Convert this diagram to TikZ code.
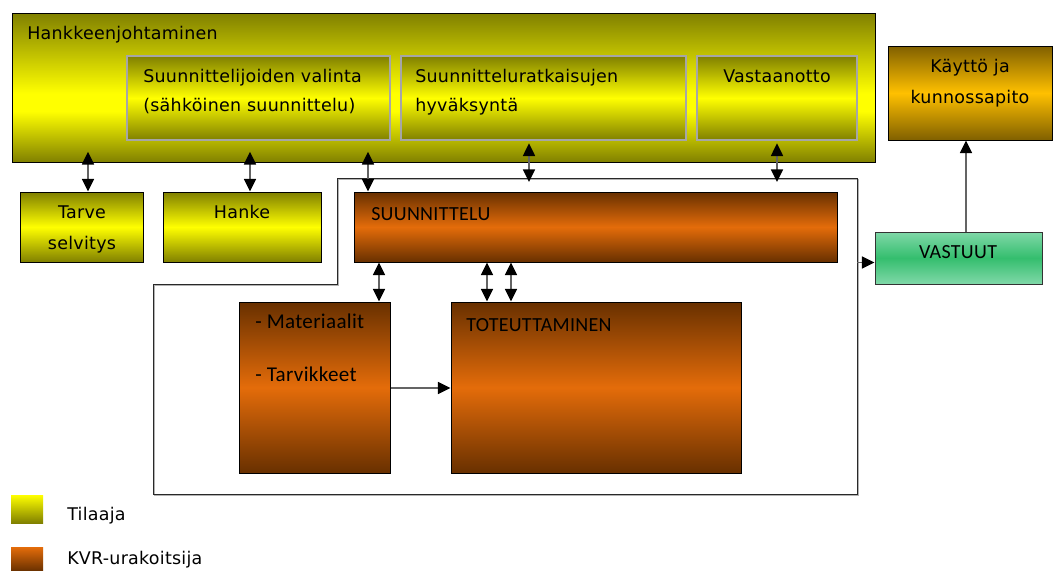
\documentclass[tikz,border=0pt]{standalone}
\usepackage{fontspec}
\setmainfont{DejaVu Sans}[LetterSpace=1.5]
\newfontfamily\calfont{Carlito}[LetterSpace=1.5]
\usetikzlibrary{arrows.meta,fit}

\definecolor{olivedark}{RGB}{128,128,0}
\definecolor{yel}{RGB}{255,255,0}
\definecolor{brdark}{RGB}{104,48,0}
\definecolor{orng}{RGB}{228,108,10}
\definecolor{amberdark}{RGB}{128,96,0}
\definecolor{amber}{RGB}{255,192,0}
\definecolor{grnlight}{RGB}{128,216,168}
\definecolor{grn}{RGB}{52,190,110}
\definecolor{inborder}{RGB}{166,166,166}
\definecolor{conn}{RGB}{100,100,100}
\definecolor{framecol}{RGB}{40,40,40}

% yellow band sits a little below the middle of the management box
\pgfdeclareverticalshading{mgmtshade}{100bp}{color(0bp)=(olivedark); color(25bp)=(olivedark); color(42bp)=(yel); color(48bp)=(yel); color(75bp)=(olivedark); color(100bp)=(olivedark)}

\begin{document}
\begin{tikzpicture}[x=0.75pt,y=-0.75pt,
  txt/.style={inner sep=0pt, font=\fontsize{13.1pt}{15pt}\selectfont},
  ctxt/.style={inner sep=0pt, font=\calfont\fontsize{15pt}{18pt}\selectfont},
  ltxt/.style={inner sep=0pt, font=\calfont\fontsize{15.8pt}{18pt}\selectfont},
  mgmtbox/.style={draw=black, line width=0.75pt, inner sep=0pt, shading=mgmtshade},
  innerbox/.style={draw=inborder, line width=1pt, inner sep=0pt, top color=olivedark, bottom color=olivedark, middle color=yel},
  yellowbox/.style={draw=black, line width=0.75pt, inner sep=0pt, top color=olivedark, bottom color=olivedark, middle color=yel},
  orangebox/.style={draw=black, line width=0.75pt, inner sep=0pt, top color=brdark, bottom color=brdark, middle color=orng},
  amberbox/.style={draw=black, line width=0.75pt, inner sep=0pt, top color=amberdark, bottom color=amberdark, middle color=amber},
  greenbox/.style={draw=black!80, line width=0.75pt, inner sep=0pt, top color=grnlight, bottom color=grnlight, middle color=grn},
  swatch/.style={inner sep=0pt},
  tipA/.tip={Triangle[length=9.5pt,width=9pt,color=black]},
  dbl/.style={draw=conn, line width=1.3pt, tipA-tipA},
  sgl/.style={draw=conn, line width=1.3pt, -tipA},
  frameline/.style={draw=framecol, line width=0.6pt},
  frameshadow/.style={draw=black!30, line width=0.8pt, transform canvas={xshift=0.9pt,yshift=-0.9pt}}
]
\useasboundingbox (0,0) rectangle (1054,571);
\fill[white] (0,0) rectangle (1054,571);

% surrounding frame of the contractor's work
\coordinate (f1) at (337,178);
\coordinate (f2) at (857,178);
\coordinate (f3) at (857,494);
\coordinate (f4) at (153,494);
\coordinate (f5) at (153,284);
\coordinate (f6) at (337,284);
\draw[frameshadow] (f1) -- (f2) -- (f3) -- (f4) -- (f5) -- (f6) -- cycle;
\draw[frameline] (f1) -- (f2) -- (f3) -- (f4) -- (f5) -- (f6) -- cycle;

% project management
\node[mgmtbox, fit={(12,13)(875,162)}] (hj) {};
\node[txt, anchor=base west] (hjt) at (27,39) {Hankkeenjohtaminen};
\node[innerbox, fit={(127,56)(390,140)}] (val) {};
\node[txt, anchor=base west] (valt1) at (143,82) {Suunnittelijoiden valinta};
\node[txt, anchor=base west] (valt2) at (143,111) {(sähköinen suunnittelu)};
\node[innerbox, fit={(401,56)(686,140)}] (hyv) {};
\node[txt, anchor=base west] (hyvt1) at (415,82) {Suunnitteluratkaisujen};
\node[txt, anchor=base west] (hyvt2) at (415,111) {hyväksyntä};
\node[innerbox, fit={(697,56)(857,140)}] (vas) {};
\node[txt, anchor=base] (vast) at (777,82) {Vastaanotto};

% client side boxes
\node[yellowbox, fit={(20,192)(143,262)}] (tarve) {};
\node[txt, anchor=base] (tarvet1) at (82,218) {Tarve};
\node[txt, anchor=base] (tarvet2) at (82,249) {selvitys};
\node[yellowbox, fit={(163,192)(321,262)}] (hanke) {};
\node[txt, anchor=base] (hanket) at (242,218) {Hanke};

% contractor boxes
\node[orangebox, fit={(354,192)(837,262)}] (suun) {};
\node[ctxt, anchor=base west] (suunt) at (371,220) {SUUNNITTELU};
\node[orangebox, fit={(239,302)(390,473)}] (mat) {};
\node[ltxt, anchor=base west] (matt1) at (255,328) {- Materiaalit};
\node[ltxt, anchor=base west] (matt2) at (255,381) {- Tarvikkeet};
\node[orangebox, fit={(451,302)(741,473)}] (tot) {};
\node[ctxt, anchor=base west] (tott) at (466,331) {TOTEUTTAMINEN};

% responsibilities and maintenance
\node[greenbox, fit={(875,232)(1042,284)}] (vastuu) {};
\node[ctxt, anchor=base] (vastuut) at (958,258) {VASTUUT};
\node[amberbox, fit={(888,46)(1052,140)}] (kay) {};
\node[txt, anchor=base] (kayt1) at (970,72) {Käyttö ja};
\node[txt, anchor=base] (kayt2) at (970,103) {kunnossapito};

% legend
\node[swatch, top color=yel, bottom color=olivedark, fit={(11,495)(43,523)}] (legA) {};
\node[txt, anchor=base west] (legAt) at (67,520) {Tilaaja};
\node[swatch, top color=orng, bottom color=brdark, fit={(11,547)(43,571)}] (legB) {};
\node[txt, anchor=base west] (legBt) at (67,564) {KVR-urakoitsija};

% connector positions
\coordinate (xa) at (88,0);
\coordinate (xb) at (250,0);
\coordinate (xc) at (368,0);
\coordinate (xd) at (529,0);
\coordinate (xe) at (777,0);
\coordinate (xf) at (379,0);
\coordinate (xg) at (487,0);
\coordinate (xh) at (511,0);
\coordinate (xk) at (966,0);
\coordinate (ym) at (0,388);

% connectors
\draw[dbl, shorten <=-8pt] (xa |- hj.south) -- (xa |- tarve.north);
\draw[dbl, shorten <=-8pt] (xb |- hj.south) -- (xb |- hanke.north);
\draw[dbl, shorten <=-8pt] (xc |- hj.south) -- (xc |- suun.north);
\draw[dbl, shorten <=2pt, shorten >=-3pt] (xd |- hyv.south) -- (xd |- f1);
\draw[dbl, shorten <=2pt, shorten >=-3pt] (xe |- vas.south) -- (xe |- f1);
\draw[dbl] (xf |- suun.south) -- (xf |- mat.north);
\draw[dbl] (xg |- suun.south) -- (xg |- tot.north);
\draw[dbl] (xh |- suun.south) -- (xh |- tot.north);
\draw[sgl] (mat.east |- ym) -- (tot.west |- ym);
\draw[sgl] (f2 |- suun.south) -- (vastuu.west |- suun.south);
\draw[sgl] (xk |- vastuu.north) -- (xk |- kay.south);
\end{tikzpicture}
\end{document}
